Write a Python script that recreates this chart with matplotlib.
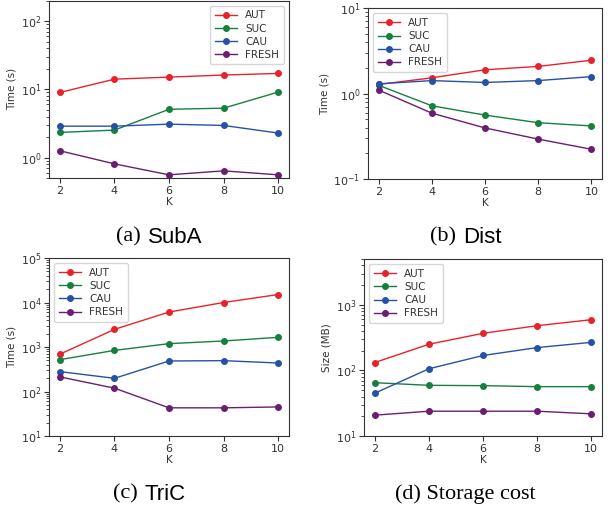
import matplotlib
matplotlib.use('Agg')
import matplotlib.pyplot as plt

K = [2, 4, 6, 8, 10]
names = ['AUT', 'SUC', 'CAU', 'FRESH']
colors = ['#e8222b', '#17803e', '#2652a6', '#6a1e72']

suba_aut = [9.0, 14.1, 15.1, 16.2, 17.1]
suba_suc = [2.34, 2.53, 5.1, 5.3, 9.1]
suba_cau = [2.89, 2.89, 3.09, 2.96, 2.29]
suba_fresh = [1.26, 0.81, 0.56, 0.64, 0.56]

dist_aut = [1.28, 1.53, 1.90, 2.08, 2.46]
dist_suc = [1.25, 0.72, 0.56, 0.456, 0.418]
dist_cau = [1.30, 1.42, 1.35, 1.42, 1.58]
dist_fresh = [1.10, 0.59, 0.396, 0.293, 0.223]

tric_aut = [690, 2490, 6100, 10000, 15100]
tric_suc = [520, 840, 1190, 1365, 1650]
tric_cau = [280, 198, 485, 494, 437]
tric_fresh = [213, 119, 43, 43, 45]

stor_aut = [132, 251, 368, 481, 593]
stor_suc = [65, 59.3, 58.6, 56.6, 56.6]
stor_cau = [45, 106, 169, 223, 268]
stor_fresh = [20.8, 23.9, 23.9, 23.9, 21.8]

plt.rcParams['font.family'] = 'DejaVu Sans'
plt.rcParams['font.size'] = 7.5
txt = '#333333'

fig = plt.figure(figsize=(6.08, 5.12), dpi=100)

panels = [
    ([0.0806, 0.652, 0.3947, 0.347], [suba_aut, suba_suc, suba_cau, suba_fresh],
     (0.5, 200), 'Time (s)', 'upper right'),
    ([0.6053, 0.6504, 0.3849, 0.3336], [dist_aut, dist_suc, dist_cau, dist_fresh],
     (0.1, 10), 'Time (s)', 'upper left'),
    ([0.0806, 0.1484, 0.3947, 0.3477], [tric_aut, tric_suc, tric_cau, tric_fresh],
     (10, 1e5), 'Time (s)', 'upper left'),
    ([0.5987, 0.1484, 0.3914, 0.3457], [stor_aut, stor_suc, stor_cau, stor_fresh],
     (10, 5000), 'Size (MB)', 'upper left'),
]

for rect, series, ylim, ylab, loc in panels:
    ax = fig.add_axes(rect)
    for vals, name, c in zip(series, names, colors):
        ax.plot(K, vals, '-o', color=c, lw=1, ms=4, label=name)
    ax.set_yscale('log')
    ax.set_ylim(*ylim)
    ax.set_xticks(K)
    ax.set_xlabel('K', color=txt, labelpad=1)
    ax.set_ylabel(ylab, color=txt, labelpad=3)
    ax.tick_params(colors=txt, labelsize=8, pad=2)
    ax.tick_params(which='minor', colors=txt)
    for s in ax.spines.values():
        s.set_color('#333333')
    leg = ax.legend(loc=loc, fontsize=7.5, handlelength=2.1, borderpad=0.45,
                    labelspacing=0.3)
    for t in leg.get_texts():
        t.set_color(txt)

# captions: label letter in serif, name in sans
caps = [(0.246, 0.537, '(a)', 'SubA'), (0.764, 0.537, '(b)', 'Dist'),
        (0.240, 0.035, '(c)', 'TriC')]
for x, y, tag, name in caps:
    fig.text(x - 0.014, y, tag, family='Liberation Serif', fontsize=16,
             ha='right', va='center')
    fig.text(x - 0.002, y, name, family='Liberation Sans', fontsize=16,
             ha='left', va='center')
fig.text(0.766, 0.035, '(d) Storage cost', family='Liberation Serif',
         fontsize=16, ha='center', va='center')

plt.savefig('out.png', dpi=100)
